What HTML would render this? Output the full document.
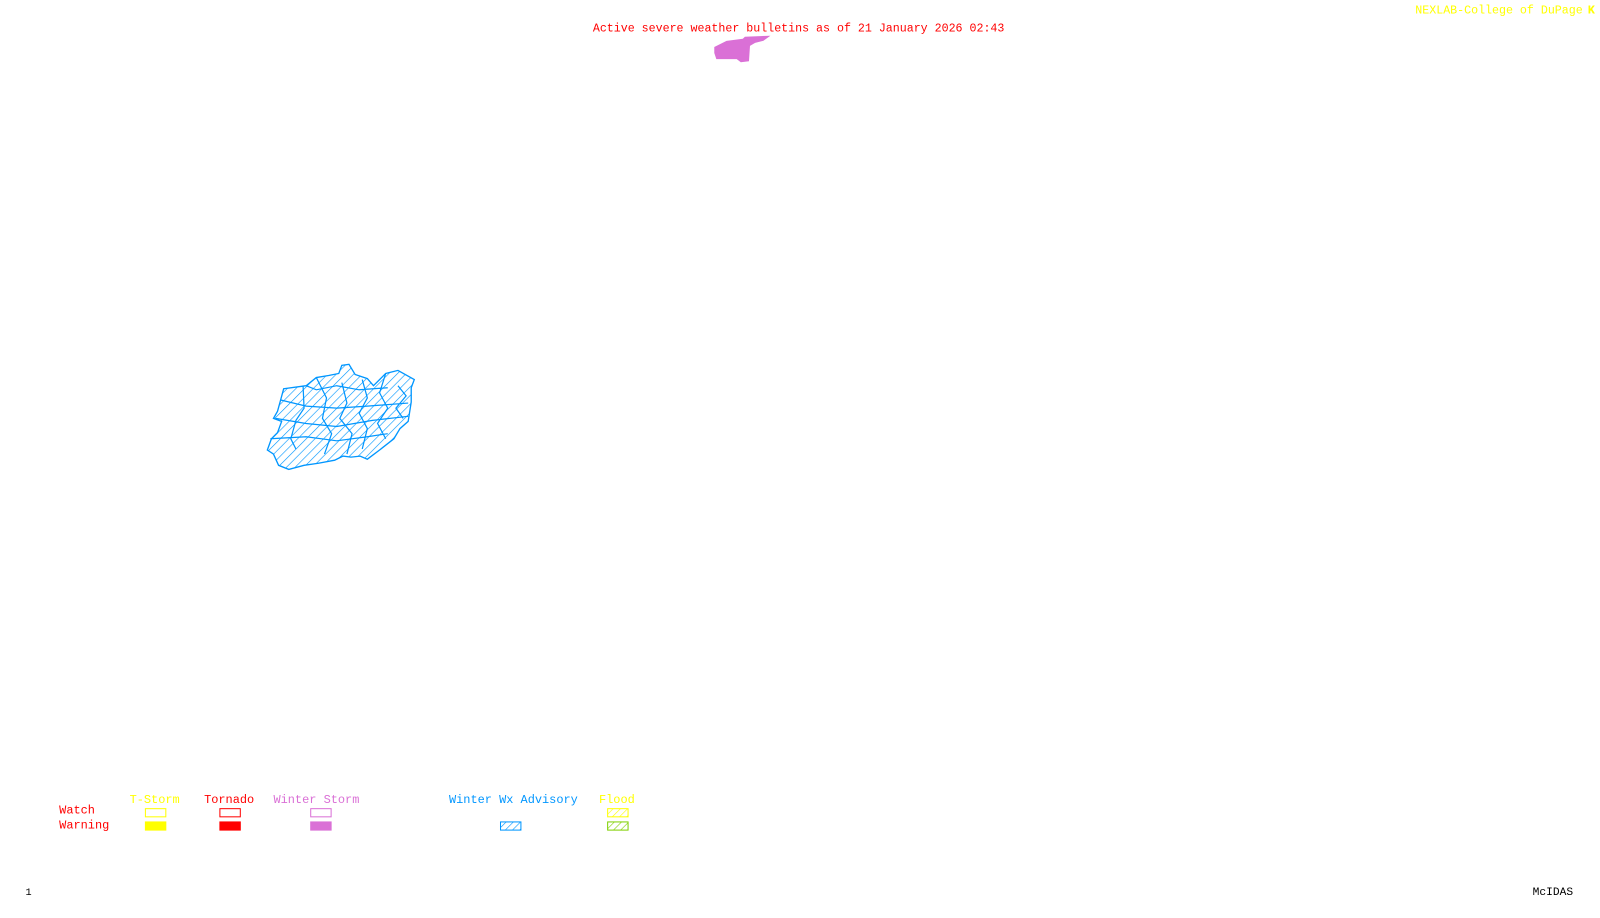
<!DOCTYPE html>
<html><head><style>
body{margin:0;width:1600px;height:900px;background:#fff;overflow:hidden;position:relative;font-family:"Liberation Mono",monospace;font-size:11.7px}
#w{position:absolute;left:0;top:0;width:1568px;height:882px;transform:scale(1.0204);transform-origin:0 0}
.t{position:absolute;white-space:pre;line-height:12px}
</style></head><body><div id="w">
<svg width="1600" height="900" style="position:absolute;left:0;top:0">
<defs>
<pattern id="h" width="6" height="6" patternUnits="userSpaceOnUse" patternTransform="rotate(45)"><line x1="0" y1="0" x2="0" y2="6" stroke="#0096ff" stroke-width="1.2"/></pattern>
<pattern id="hy" width="5" height="5" patternUnits="userSpaceOnUse" patternTransform="rotate(45)"><line x1="0" y1="0" x2="0" y2="5" stroke="#ffff00" stroke-width="1.2"/></pattern>
<pattern id="hg" width="5" height="5" patternUnits="userSpaceOnUse" patternTransform="rotate(45)"><line x1="0" y1="0" x2="0" y2="5" stroke="#7fd000" stroke-width="1.2"/></pattern>
<pattern id="hb" width="5" height="5" patternUnits="userSpaceOnUse" patternTransform="rotate(45)"><line x1="0" y1="0" x2="0" y2="5" stroke="#0096ff" stroke-width="1.2"/></pattern>
</defs>
<polygon points="700,46 712,40 728,38 730,36 755,35 748,40 740,42 735,45 734,60 726,61 722,58 702,58 700,52" fill="#da70d6"/>
<g stroke="#0096ff" stroke-width="1.3" fill="url(#h)">
<polygon points="278,381 300,378 310,370 322,368 332,366 335,358 342,357 348,367 360,371 366,378 378,366 390,363 406,372 403,380 403,394 400,413 392,420 386,430 372,441 360,450 353,447 344,448 336,447 328,451 312,454 298,456 283,460 273,456 268,445 262,441 266,430 272,424 276,413 268,410 272,403 275,392"/>
</g>
<g stroke="#0096ff" stroke-width="1.2" fill="none">
<path d="M297,378 L298,400 L290,412 L285,430 L290,440 M310,370 L320,390 L316,410 L325,425 L318,445 M335,375 L340,395 L333,410 L345,425 L340,445 M355,372 L360,390 L352,405 L360,420 L355,440 M378,366 L372,385 L380,400 L370,415 L378,430 M390,378 L398,388 L388,400 L395,410 M275,392 L300,398 L330,400 L360,398 L400,395 M270,410 L300,415 L330,418 L365,412 L400,408 M265,430 L300,428 L330,432 L360,428 L380,425 M300,378 L310,382 L330,378 L352,382 L380,380"/>
</g>
<rect x="142.5" y="792.5" width="20" height="8" fill="none" stroke="#ffff00"/>
<rect x="142" y="805" width="21" height="9" fill="#ffff00"/>
<rect x="215.5" y="792.5" width="20" height="8" fill="none" stroke="#ff0000"/>
<rect x="215" y="805" width="21" height="9" fill="#ff0000"/>
<rect x="304.5" y="792.5" width="20" height="8" fill="none" stroke="#da70d6"/>
<rect x="304" y="805" width="21" height="9" fill="#da70d6"/>
<rect x="490.5" y="805.5" width="20" height="8" fill="url(#hb)" stroke="#0096ff"/>
<rect x="595.5" y="792.5" width="20" height="8" fill="url(#hy)" stroke="#ffff00"/>
<rect x="595.5" y="805.5" width="20" height="8" fill="url(#hg)" stroke="#7fd000"/>
</svg>
<div class="t" style="left:581px;top:23px;color:#ff0000;font-size:11.4px">Active severe weather bulletins as of 21 January 2026 02:43</div>
<div class="t" style="left:1387px;top:5px;color:#ffff00;font-size:11.4px">NEXLAB-College of DuPage</div>
<div class="t" style="left:1556px;top:4px;color:#ffff00;font-weight:bold">K</div>
<div class="t" style="left:127px;top:778px;color:#ffff00">T-Storm</div>
<div class="t" style="left:200px;top:778px;color:#ff0000">Tornado</div>
<div class="t" style="left:268px;top:778px;color:#da70d6">Winter Storm</div>
<div class="t" style="left:440px;top:778px;color:#0096ff">Winter Wx Advisory</div>
<div class="t" style="left:587px;top:778px;color:#ffff00">Flood</div>
<div class="t" style="left:58px;top:788px;color:#ff0000">Watch</div>
<div class="t" style="left:58px;top:803px;color:#ff0000">Warning</div>
<div class="t" style="left:25px;top:870px;color:#000;font-size:10px">1</div>
<div class="t" style="left:1502px;top:869px;color:#000;font-size:11px">McIDAS</div>
</div></body></html>
